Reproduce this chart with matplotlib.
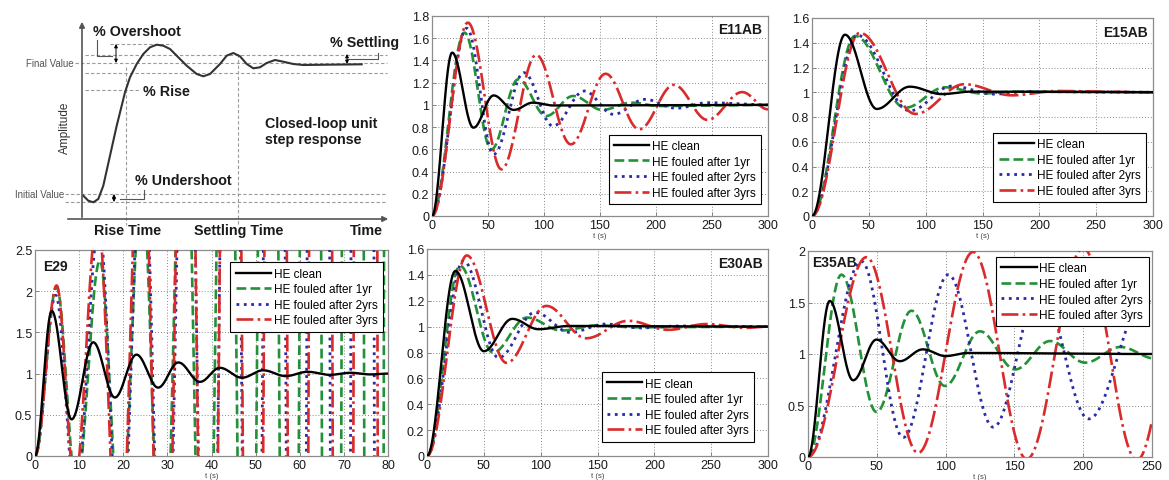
import numpy as np
import matplotlib
matplotlib.use('Agg')
import matplotlib.pyplot as plt

plt.rcParams['font.family'] = ['Liberation Sans', 'DejaVu Sans']

# ---------------- data ----------------
series_labels = ['HE clean', 'HE fouled after 1yr', 'HE fouled after 2yrs', 'HE fouled after 3yrs']

# Schematic step response (traced points, schematic pixel units)
schem_x = [83.3, 88.3, 93.3, 98.3, 103.3, 110, 116.7, 121.7, 125, 130, 136.7, 143.3, 150, 156.7,
           163.3, 170, 176.7, 186.7, 196.7, 203.3, 210, 220, 226.7, 233.3, 240, 246.7, 253.3, 260,
           266.7, 275, 283.3, 293.3, 303.3, 361.7]
schem_y = [196.7, 201.7, 203.3, 200, 186.7, 156.7, 126.7, 106.7, 93.3, 78.3, 65, 55, 48.3, 45.7,
           46.7, 50, 56.7, 66.7, 75, 77.3, 75, 65, 56.7, 54, 57.3, 65, 69.3, 68.3,
           64, 61, 62.7, 65, 66, 65.3]

# Extrema (time, value)
E11AB_clean_t = [0, 18, 37, 55, 73, 90, 108, 300]
E11AB_clean_y = [0, 1.47, 0.795, 1.085, 0.955, 1.02, 0.995, 1.0]
E11AB_1yr_t = [0, 29, 53, 77, 102, 126, 152, 178, 203, 300]
E11AB_1yr_y = [0, 1.65, 0.6, 1.23, 0.9, 1.08, 0.955, 1.02, 0.99, 1.0]
E11AB_2yr_t = [0, 31, 55, 82, 108, 136, 162, 190, 218, 246, 300]
E11AB_2yr_y = [0, 1.69, 0.555, 1.29, 0.81, 1.125, 0.915, 1.05, 0.97, 1.02, 1.0]
E11AB_3yr_t = [0, 32, 62, 93, 124, 155, 185, 216, 246, 277, 300]
E11AB_3yr_y = [0, 1.74, 0.42, 1.45, 0.645, 1.28, 0.78, 1.18, 0.865, 1.115, 0.96]

E15AB_clean_t = [0, 29, 57, 86, 114, 140, 300]
E15AB_clean_y = [0, 1.465, 0.865, 1.045, 0.985, 1.005, 1.0]
E15AB_1yr_t = [0, 38, 82, 117, 150, 180, 300]
E15AB_1yr_y = [0, 1.455, 0.875, 1.04, 0.99, 1.005, 1.0]
E15AB_2yr_t = [0, 40, 86, 123, 160, 190, 300]
E15AB_2yr_y = [0, 1.46, 0.85, 1.05, 0.985, 1.005, 1.0]
E15AB_3yr_t = [0, 42, 91, 134, 176, 215, 300]
E15AB_3yr_y = [0, 1.48, 0.825, 1.065, 0.975, 1.01, 1.0]

E29_clean_t = [0, 3.8, 8.3, 13.2, 18.1, 23.0, 27.9, 32.5, 37.4, 41.9, 46.9, 51.7, 56.8, 61.8, 66.8, 71.5, 76.0, 80]
E29_clean_y = [0, 1.76, 0.445, 1.38, 0.71, 1.23, 0.83, 1.135, 0.9, 1.07, 0.95, 1.04, 0.97, 1.022, 0.985, 1.01, 0.99, 1.0]
E29_1yr_t = [0, 4.9, 9.4, 14.7, 19.4, 24.2, 29.0, 33.8, 38.6, 43.4, 48.2, 53.0, 57.8, 62.6, 67.4, 72.2, 77.0, 81.8]
E29_1yr_y = [0, 2.05, -0.35, 2.37, -0.9, 3.3, -2.0, 5.0, -4.0, 8.0, -7.0, 13.0, -12.0, 21.0, -20.0, 34.0, -33.0, 55.0]
E29_2yr_t = [0, 4.7, 9.2, 14.5, 19.4, 24.4, 29.4, 34.4, 39.4, 44.4, 49.4, 54.4, 59.4, 64.4, 69.4, 74.4, 79.4, 84.4]
E29_2yr_y = [0, 1.95, -0.5, 2.8, -1.4, 4.0, -3.0, 6.5, -5.5, 10.5, -9.5, 17.0, -16.0, 27.0, -26.0, 43.0, -42.0, 68.0]
E29_3yr_t = [0, 4.9, 9.0, 14.2, 19.1, 24.1, 29.2, 34.3, 39.4, 44.5, 49.6, 54.7, 59.8, 64.9, 70.0, 75.1, 80.2]
E29_3yr_y = [0, 2.07, -0.3, 2.9, -1.6, 4.5, -3.5, 7.5, -6.5, 12.0, -11.0, 19.0, -18.0, 30.0, -29.0, 48.0, -47.0]

E30AB_clean_t = [0, 25, 50, 75, 98, 125, 300]
E30AB_clean_y = [0, 1.43, 0.81, 1.06, 0.98, 1.005, 1.0]
E30AB_1yr_t = [0, 29, 58, 88, 118, 150, 180, 300]
E30AB_1yr_y = [0, 1.47, 0.8, 1.07, 0.97, 1.01, 0.995, 1.0]
E30AB_2yr_t = [0, 32, 63, 95, 126, 157, 188, 220, 300]
E30AB_2yr_y = [0, 1.51, 0.76, 1.11, 0.955, 1.02, 0.99, 1.005, 1.0]
E30AB_3yr_t = [0, 35, 70, 105, 140, 177, 212, 246, 280, 300]
E30AB_3yr_y = [0, 1.55, 0.72, 1.16, 0.91, 1.045, 0.975, 1.02, 0.99, 1.0]

E35AB_clean_t = [0, 15.8, 32.8, 49.8, 66.7, 83.5, 100, 116, 250]
E35AB_clean_y = [0, 1.515, 0.745, 1.14, 0.93, 1.045, 0.98, 1.01, 1.0]
E35AB_1yr_t = [0, 24.3, 49.8, 75.2, 99.5, 125, 150.5, 176, 201.5, 227, 252.5]
E35AB_1yr_y = [0, 1.77, 0.437, 1.42, 0.69, 1.22, 0.85, 1.126, 0.916, 1.068, 0.955]
E35AB_2yr_t = [0, 38.8, 69.2, 102, 134.7, 168.7, 204, 245, 280]
E35AB_2yr_y = [0, 1.9, 0.19, 1.77, 0.29, 1.64, 0.37, 1.53, 0.45]
E35AB_3yr_t = [0, 42.5, 80, 120, 159, 200, 239, 278]
E35AB_3yr_y = [0, 1.94, 0.04, 1.99, -0.02, 2.03, -0.03, 2.05]

# ---------------- styles ----------------
colors = ['black', '#239138', '#2a2aa6', '#d92b2b']
styles = ['-', '--', ':', '-.']
widths = [1.7, 1.9, 2.0, 1.9]


def cos_path(tk, yk, n=400):
    ts, ys = [], []
    for i in range(len(tk) - 1):
        s = np.linspace(0, 1, n)
        ts.append(tk[i] + (tk[i + 1] - tk[i]) * s)
        ys.append(yk[i] + (yk[i + 1] - yk[i]) * (1 - np.cos(np.pi * s)) / 2)
    return np.concatenate(ts), np.concatenate(ys)


fig = plt.figure(figsize=(11.69, 4.81), dpi=100)
W, H = 1169.0, 481.0


def add_ax(l, t, r, b):
    return fig.add_axes([l / W, (H - b) / H, (r - l) / W, (b - t) / H])


# ---------------- schematic ----------------
ax0 = add_ax(0, 0, 395, 235)
ax0.set_xlim(0, 395)
ax0.set_ylim(235, 0)
ax0.axis('off')
dcol = '#9a9a9a'
dkw = dict(color=dcol, lw=0.8, linestyle=(0, (3, 2)))
for y, x1, x2 in [(45, 110, 172), (56, 85, 387), (64, 75, 387), (74, 85, 387), (91, 85, 140),
                  (195, 65, 387), (203, 65, 387)]:
    ax0.plot([x1, x2], [y, y], **dkw)
ax0.plot([126, 126], [68, 226], **dkw)
ax0.plot([238, 238], [55, 226], **dkw)
ax0.annotate('', xy=(82, 20), xytext=(82, 221),
             arrowprops=dict(arrowstyle='-|>', color='#555555', lw=1.2, mutation_scale=8))
ax0.annotate('', xy=(391, 220), xytext=(65, 220),
             arrowprops=dict(arrowstyle='-|>', color='#555555', lw=1.2, mutation_scale=8))
ax0.plot(schem_x, schem_y, color='#333333', lw=1.5)
for x, y1, y2 in [(116, 45, 64), (114, 195, 203), (347, 55, 65)]:
    ax0.annotate('', xy=(x, y1), xytext=(x, y2),
                 arrowprops=dict(arrowstyle='<|-|>', color='black', lw=0.7, mutation_scale=5,
                                 shrinkA=0, shrinkB=0))
bk = dict(color='#555555', lw=0.8)
ax0.plot([97, 97, 112], [41, 57, 57], **bk)
ax0.plot([120, 144, 144], [200, 200, 191], **bk)
ax0.plot([347, 378, 378], [60, 60, 54], **bk)
tb = dict(fontsize=10.3, fontweight='bold', color='#1a1a1a', va='center')
ax0.text(93, 32, '% Overshoot', ha='left', **tb)
ax0.text(330, 43, '% Settling', ha='left', **tb)
ax0.text(143, 92, '% Rise', ha='left', **tb)
ax0.text(135, 181, '% Undershoot', ha='left', **tb)
ax0.text(265, 124, 'Closed-loop unit', ha='left', **tb)
ax0.text(265, 140, 'step response', ha='left', **tb)
ax0.text(128, 231, 'Rise Time', ha='center', **tb)
ax0.text(239, 231, 'Settling Time', ha='center', **tb)
ax0.text(366, 231, 'Time', ha='center', **tb)
ax0.text(74, 64, 'Final Value', ha='right', va='center', fontsize=7, color='#555555')
ax0.text(64, 195, 'Initial Value', ha='right', va='center', fontsize=7, color='#555555')
ax0.text(65, 128, 'Amplitude', rotation=90, ha='center', va='center', fontsize=8.5, color='#333333')

# ---------------- response panels ----------------
panels = [
    dict(name='E11AB', box=(432, 17, 768, 217), xlim=(0, 300), xt=range(0, 301, 50),
         ylim=(0, 1.8), yt=[0, 0.2, 0.4, 0.6, 0.8, 1, 1.2, 1.4, 1.6, 1.8],
         data=[(E11AB_clean_t, E11AB_clean_y), (E11AB_1yr_t, E11AB_1yr_y),
               (E11AB_2yr_t, E11AB_2yr_y), (E11AB_3yr_t, E11AB_3yr_y)],
         leg=('lower right', (0.98, 0.06)), lab=(0.982, 0.935, 'right'), n=400),
    dict(name='E15AB', box=(812, 19, 1153, 217), xlim=(0, 300), xt=range(0, 301, 50),
         ylim=(0, 1.6), yt=[0, 0.2, 0.4, 0.6, 0.8, 1, 1.2, 1.4, 1.6],
         data=[(E15AB_clean_t, E15AB_clean_y), (E15AB_1yr_t, E15AB_1yr_y),
               (E15AB_2yr_t, E15AB_2yr_y), (E15AB_3yr_t, E15AB_3yr_y)],
         leg=('lower right', (0.98, 0.07)), lab=(0.985, 0.93, 'right'), n=400),
    dict(name='E29', box=(35, 251, 388, 457), xlim=(0, 80), xt=range(0, 81, 10),
         ylim=(0, 2.5), yt=[0, 0.5, 1, 1.5, 2, 2.5],
         data=[(E29_clean_t, E29_clean_y), (E29_1yr_t, E29_1yr_y),
               (E29_2yr_t, E29_2yr_y), (E29_3yr_t, E29_3yr_y)],
         leg=('upper right', (0.986, 0.94)), lab=(0.023, 0.92, 'left'), n=4000),
    dict(name='E30AB', box=(427, 250, 768, 457), xlim=(0, 300), xt=range(0, 301, 50),
         ylim=(0, 1.6), yt=[0, 0.2, 0.4, 0.6, 0.8, 1, 1.2, 1.4, 1.6],
         data=[(E30AB_clean_t, E30AB_clean_y), (E30AB_1yr_t, E30AB_1yr_y),
               (E30AB_2yr_t, E30AB_2yr_y), (E30AB_3yr_t, E30AB_3yr_y)],
         leg=('lower right', (0.96, 0.07)), lab=(0.985, 0.93, 'right'), n=400),
    dict(name='E35AB', box=(808, 252, 1152, 458), xlim=(0, 250), xt=range(0, 251, 50),
         ylim=(0, 2), yt=[0, 0.5, 1, 1.5, 2],
         data=[(E35AB_clean_t, E35AB_clean_y), (E35AB_1yr_t, E35AB_1yr_y),
               (E35AB_2yr_t, E35AB_2yr_y), (E35AB_3yr_t, E35AB_3yr_y)],
         leg=('upper right', (0.99, 0.97)), lab=(0.012, 0.945, 'left'), n=400),
]

for p in panels:
    ax = add_ax(*p['box'])
    ax.set_xlim(*p['xlim'])
    ax.set_ylim(*p['ylim'])
    ax.set_xticks(list(p['xt']))
    ax.set_yticks(p['yt'])
    ax.set_xticklabels(['%g' % v for v in p['xt']])
    ax.set_yticklabels(['%g' % v for v in p['yt']])
    ax.tick_params(direction='in', length=3, width=0.6, color='#777777', labelsize=9,
                   labelcolor='#1a1a1a', pad=2)
    for s in ax.spines.values():
        s.set_color('#8c8c8c')
        s.set_linewidth(0.9)
    ax.grid(True, color='#8a8a8a', linestyle=(0, (1, 2)), lw=0.7)
    ax.set_axisbelow(True)
    ax.set_xlabel('t (s)', fontsize=5.5, color='#444444', labelpad=1)
    lx, ly, lha = p['lab']
    ax.text(lx, ly, p['name'], transform=ax.transAxes, ha=lha, va='center',
            fontsize=10, fontweight='bold', color='#1a1a1a', zorder=1)
    handles = [None] * 4
    order = [1, 2, 3, 0]
    for i in order:
        tk, yk = p['data'][i]
        t, y = cos_path(tk, yk, p['n'])
        ln, = ax.plot(t, y, color=colors[i], linestyle=styles[i], lw=widths[i],
                      zorder=5 if i == 0 else 3, label=series_labels[i])
        handles[i] = ln
    loc, anchor = p['leg']
    leg = ax.legend(handles, series_labels, loc=loc, bbox_to_anchor=anchor, fontsize=8.5,
                    handlelength=3.0, handletextpad=0.25, labelspacing=0.3, borderpad=0.45,
                    borderaxespad=0, fancybox=False, framealpha=1, edgecolor='black')
    leg.get_frame().set_linewidth(0.8)
    leg.set_zorder(10)

fig.savefig('out.png', dpi=100)
